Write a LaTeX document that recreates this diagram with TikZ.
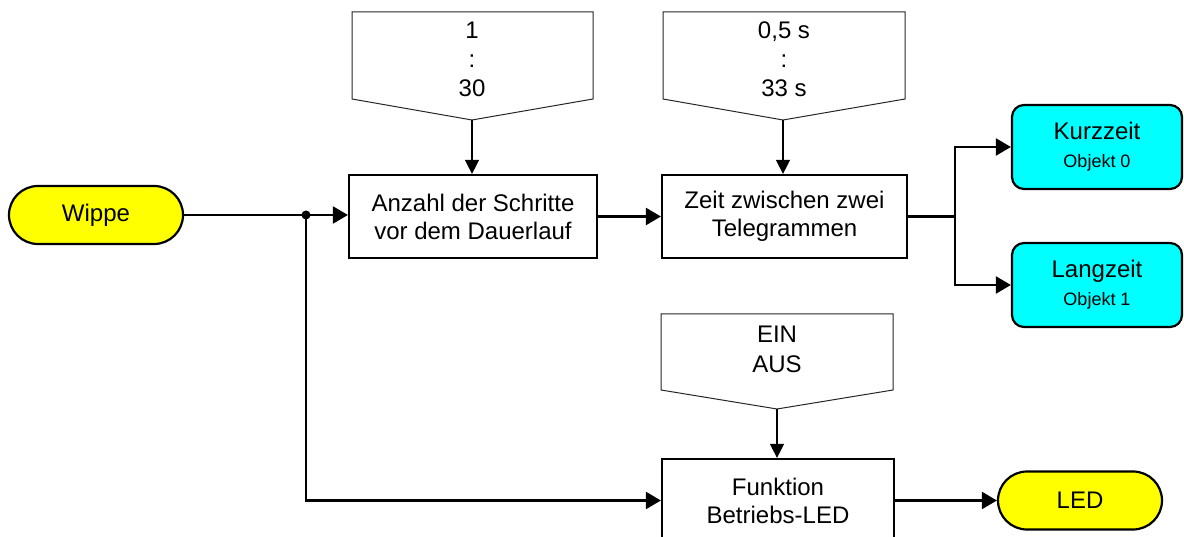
\documentclass[tikz,border=0pt]{standalone}
\usepackage{fontspec}
\setmainfont{Liberation Sans}
\usetikzlibrary{arrows.meta}
\definecolor{pillyellow}{RGB}{255,255,0}
\definecolor{objcyan}{RGB}{0,255,255}
\begin{document}
\begin{tikzpicture}[x=1pt,y=-1pt,
  txt/.style={font=\fontsize{24}{28}\selectfont, align=center},
  blockbox/.style={txt, draw, line width=2.2pt, inner sep=0pt},
  pill/.style={txt, draw, line width=2.2pt, fill=pillyellow, rounded corners=29pt, minimum width=#1, minimum height=58pt, inner sep=0pt},
  objbox/.style={txt, draw, line width=2.2pt, fill=objcyan, rounded corners=12pt, minimum width=170pt, minimum height=84pt, inner sep=0pt},
  penta/.style={draw=black!85, line width=1pt},
  flow/.style={line width=2.2pt, -{Triangle[length=15pt,width=17pt]}},
  thinflow/.style={line width=1.1pt, -{Triangle[length=14pt,width=14pt]}}
]
\useasboundingbox (0,0) rectangle (1184,537);
\clip (0,0) rectangle (1184,537);

% pentagons (parameter inputs)
\draw[penta] (352,12) -- (593,12) -- (593,99) -- (472,120) -- (352,99) -- cycle;
\node[txt, font=\fontsize{24}{29}\selectfont] (p1) at (472,59) {1\\:\\30};
\coordinate (p1tip) at (472,120);

\draw[penta] (663,12) -- (905,12) -- (905,99) -- (783,120) -- (663,99) -- cycle;
\node[txt, font=\fontsize{24}{29}\selectfont] (p2) at (784,59) {0,5 s\\:\\33 s};
\coordinate (p2tip) at (783,120);

\draw[penta] (661,314) -- (893,314) -- (893,390) -- (777,409) -- (661,390) -- cycle;
\node[txt, font=\fontsize{24}{30}\selectfont] (p3) at (777,349) {EIN\\AUS};
\coordinate (p3tip) at (777,409);

% blocks
\node[blockbox, minimum width=248pt, minimum height=83pt] (b1) at (473,216.5) {Anzahl der Schritte\\vor dem Dauerlauf};
\node[blockbox, minimum width=245pt, minimum height=83pt] (b2) at (784.5,216.5) {Zeit zwischen zwei\\Telegrammen};
\node[blockbox, minimum width=232pt, minimum height=83pt] (b3) at (778,500.5) {Funktion\\Betriebs-LED};

% terminals
\node[pill=174pt] (w) at (96,215) {Wippe};
\node[pill=164pt] (led) at (1080,500.5) {LED};
\node[objbox] (kz) at (1097,147) {Kurzzeit\\{\fontsize{18}{20}\selectfont Objekt 0}};
\node[objbox] (lz) at (1097,285) {Langzeit\\{\fontsize{18}{20}\selectfont Objekt 1}};

% connectors
\coordinate (j) at (306,215);
\coordinate (br) at (955,216.5);
\draw[line width=2.2pt] (w.east) -- (j);
\draw[flow] (j) -- (j -| b1.west);
\fill (j) circle (4.5pt);
\draw[flow] (j) -- (j |- b3.west) -- (b3.west);
\draw[flow] (b1.east) -- (b1.east -| b2.west);
\draw[line width=2.2pt] (b2.east) -- (br);
\draw[flow] (br) |- (kz.west);
\draw[flow] (br) |- (lz.west);
\draw[flow] (b3.east) -- (b3.east -| led.west);

\draw[thinflow] (p1tip) -- (p1tip |- b1.north);
\draw[thinflow] (p2tip) -- (p2tip |- b2.north);
\draw[thinflow] (p3tip) -- (p3tip |- b3.north);
\end{tikzpicture}
\end{document}
